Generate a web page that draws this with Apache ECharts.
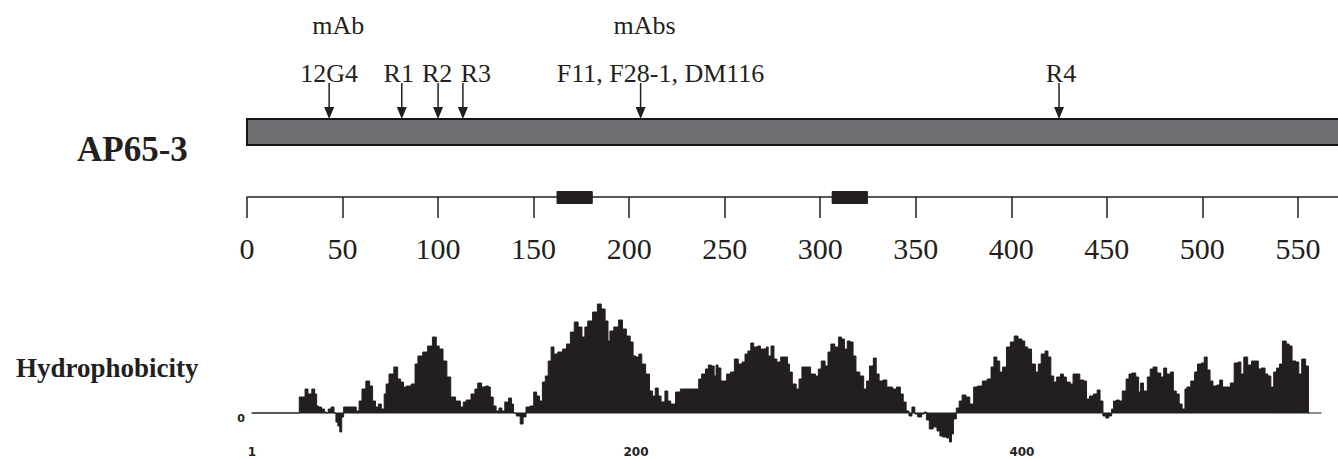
<!DOCTYPE html>
<html>
<head>
<meta charset="utf-8">
<title>AP65-3</title>
<script src="https://cdn.jsdelivr.net/npm/echarts@6/dist/echarts.min.js"></script>
<style>
  html, body { margin: 0; padding: 0; background: #fff; }
  #chart { width: 1338px; height: 459px; }
</style>
</head>
<body>
<div id="chart"></div>
<script>
// epitopes mapped on AP65-3 (residue numbers)
const epitopeNames = ['12G4', 'R1', 'R2', 'R3', 'F11, F28-1, DM116', 'R4']
const epitopeResidues = [43, 81, 100, 113, 206, 425]
const epitopeGroups = ['mAb', '', '', '', 'mAbs', '']

// protein runs past the right edge of the figure
const proteinLength = 580

// hydrophobic segments drawn on the ruler
const segmentStarts = [162, 306]
const segmentEnds = [181, 325]

const scaleTicks = [0, 50, 100, 150, 200, 250, 300, 350, 400, 450, 500, 550]
const hydroTicks = [1, 200, 400]

// hydrophobicity profile (residue, score)
const hydroResidues = [
  1, 25, 26, 28, 29, 31, 33, 34, 35, 36, 38, 39, 40, 41, 43, 44, 45, 46, 47, 48,
  49, 54, 56, 57, 59, 61, 63, 64, 66, 67, 69, 70, 71, 73, 76, 77, 79, 80, 82, 85,
  86, 88, 91, 93, 96, 97, 99, 101, 103, 105, 108, 110,
  111, 113, 116, 117, 119, 121, 123, 124, 125, 127, 128, 130, 131, 133, 135, 136, 137, 139,
  141, 142, 144, 146, 148, 149, 151, 152, 154, 155, 157, 158, 161, 163, 165, 167, 169, 171,
  173, 174, 176, 179, 181, 183, 185, 186, 187, 190, 192, 194, 196, 198, 199, 201, 202, 204,
  206, 208, 209, 211, 212, 214, 216, 217, 219, 222, 224,
  225, 232, 233, 235, 237, 238, 240, 241, 242, 243, 245, 246, 248, 250, 252, 254, 256, 257,
  259, 260, 262, 264, 265, 267, 268, 269, 271, 272, 274, 276, 278, 279, 280, 282, 284, 285,
  287, 289, 292, 294, 295, 297, 299, 300, 302, 304, 306, 307, 309, 310, 312, 313, 315, 317,
  319, 320, 322, 324, 325, 327, 329, 331, 332, 334, 336, 338, 339,
  341, 342, 344, 345, 347, 349, 350, 351, 353, 355, 357, 358, 360, 362, 363, 364, 365, 367,
  368, 370, 372, 374, 376, 378, 381, 383, 385, 386, 388, 389, 391, 393, 395, 397, 399, 401,
  402, 404, 406, 408, 409, 411, 413, 414, 416, 417, 419, 421, 422, 424, 426, 427, 429, 431,
  433, 434, 436, 438, 440, 441, 443, 444, 446, 447, 448,
  450, 451, 453, 455, 456, 458, 460, 461, 462, 464, 466, 467, 469, 471, 473, 474, 476, 478,
  479, 481, 482, 484, 485, 486, 489, 490, 492, 494, 495, 497, 498, 500, 502, 503, 505, 507,
  509, 511, 513, 514, 516, 518, 520, 522, 523, 525, 527, 528, 530, 531, 533, 534, 536, 538,
  539, 541, 543, 544, 546, 548, 549
]
const hydroScores = [
  0, 0, 1.6, 1.6, 2.4, 1.9, 2.4, 1.9, 0.7, 0.6, 0.4, 0.1, 0, 0.4, 0.6, 0, -0.9, -1.3, -1.9, -0.4,
  0.6, 0.6, 0.2, 1.2, 2.4, 3.2, 2.7, 1.2, 0.6, 0.9, 0.4, 1.9, 2.9, 3.9, 4.6, 3.4, 3.1, 2.6, 2.7, 2.9,
  4.9, 5.7, 6.1, 6.7, 7.6, 6.7, 6.4, 5.2, 3.6, 1.6, 1.2, 0.6,
  1.1, 1.3, 1.9, 2.4, 3.0, 2.6, 2.7, 2.6, 1.6, 0.7, 0.2, 0.5, 0.2, 1.1, 1.5, 0.9, 0, -0.3,
  -1.1, -0.4, 0.6, 0.7, 2.1, 1.7, 1.2, 3.1, 3.7, 5.2, 6.6, 5.9, 6.1, 6.4, 6.9, 8.1, 9.1, 8.6,
  7.6, 8.6, 9.2, 10.1, 10.9, 10.4, 9.2, 7.2, 8.2, 8.6, 9.3, 8.4, 7.7, 7.1, 5.7, 5.6, 5.9, 4.9,
  3.9, 2.2, 1.7, 2.5, 1.7, 1.1, 2.2, 1.2, 0.9, 2.1, 2.4,
  2.4, 2.4, 3.4, 3.9, 4.4, 4.8, 4.7, 3.7, 4.8, 4.5, 3.2, 3.2, 3.9, 4.1, 5.4, 4.9, 5.1, 5.9,
  6.2, 7.0, 6.6, 6.7, 6.4, 6.4, 6.6, 5.7, 6.7, 5.4, 5.1, 5.6, 5.6, 4.9, 4.1, 2.9, 2.4, 3.4,
  4.6, 4.6, 3.9, 3.7, 4.4, 5.2, 4.7, 6.1, 6.9, 6.6, 7.6, 7.4, 6.4, 7.2, 7.1, 5.7, 4.1, 3.7,
  2.4, 3.2, 4.7, 5.5, 3.9, 3.2, 3.3, 2.6, 2.6, 2.4, 2.6, 1.9, 1.1,
  0.2, -0.3, 0.6, -0.1, -0.4, -0.1, 0.1, -0.7, -1.6, -1.4, -1.8, -2.3, -2.4, -2.5, -2.9, -2.1, -0.6, 0.5,
  1.2, 1.8, 1.6, 0.9, 2.6, 2.7, 3.2, 3.4, 4.6, 5.6, 5.2, 4.1, 4.6, 6.6, 7.1, 7.7, 7.4, 7.2,
  6.6, 6.4, 4.9, 4.1, 4.9, 5.9, 6.2, 5.6, 3.7, 3.1, 3.6, 3.9, 3.6, 3.1, 2.9, 3.9, 3.9, 3.3,
  3.2, 1.4, 1.7, 1.9, 2.3, 1.2, -0.3, -0.5, -0.3, 0.4, 1.2,
  1.3, 1.2, 2.2, 3.4, 3.9, 4.0, 3.6, 2.1, 3.0, 2.2, 3.6, 4.4, 4.6, 4.0, 3.6, 4.5, 3.9, 4.1,
  2.2, 1.9, 0.9, 0.4, 2.4, 2.6, 3.2, 4.1, 4.9, 5.0, 5.6, 4.3, 3.2, 2.7, 2.8, 3.3, 2.6, 2.6,
  3.0, 5.0, 5.1, 3.9, 5.6, 4.8, 5.2, 5.2, 4.4, 4.5, 3.9, 3.7, 2.6, 4.1, 4.5, 4.9, 7.2, 6.9,
  6.7, 5.2, 5.1, 3.9, 5.4, 4.7, 0
]

// label nudges so the text sits like the original figure
const labelShift = [0, -3, -1, 13, 20, 2]
const groupShift = [9, 0, 0, 0, 4, 0]

const ink = '#231f20'
const serif = '"Liberation Serif", "Times New Roman", serif'

const chart = echarts.init(document.getElementById('chart'), null, { renderer: 'svg' })

chart.setOption({
  backgroundColor: '#fff',
  animation: false,
  title: [
    { text: 'AP65-3', left: 72, top: 127,
      textStyle: { fontFamily: serif, fontWeight: 'bold', fontSize: 35, color: ink } },
    { text: 'Hydrophobicity', left: 11, top: 349,
      textStyle: { fontFamily: serif, fontWeight: 'bold', fontSize: 27, color: ink } }
  ],
  grid: [
    { left: 247, right: 0, top: 119, height: 26, outerBoundsMode: 'none' },
    { left: 247, right: 0, top: 160, height: 37, outerBoundsMode: 'none' },
    { left: 252, right: 17, top: 303, height: 140, outerBoundsMode: 'none' }
  ],
  xAxis: [
    { gridIndex: 0, type: 'value', min: 0, max: 571, show: false },
    {
      gridIndex: 1, type: 'value', min: 0, max: 571, position: 'bottom',
      axisLine: { show: true, lineStyle: { color: ink, width: 1.5 } },
      axisTick: { show: true, length: 21, customValues: scaleTicks, lineStyle: { color: ink, width: 1.5 } },
      axisLabel: { customValues: scaleTicks, margin: 36, fontFamily: serif, fontSize: 30, color: ink },
      splitLine: { show: false }
    },
    {
      gridIndex: 2, type: 'value', min: 1, max: 555,
      axisLine: { show: true, onZero: true, lineStyle: { color: '#6a6a6a', width: 1.5 } },
      axisTick: { show: false },
      axisLabel: { customValues: hydroTicks, margin: 3, fontFamily: '"DejaVu Sans", sans-serif',
        fontWeight: 'bold', fontSize: 12, color: ink },
      splitLine: { show: false }
    }
  ],
  yAxis: [
    { gridIndex: 0, type: 'value', min: 0, max: 1, show: false },
    { gridIndex: 1, type: 'value', min: 0, max: 1, show: false },
    {
      gridIndex: 2, type: 'value', min: -3, max: 11,
      axisLine: { show: false }, axisTick: { show: false }, splitLine: { show: false },
      axisLabel: { customValues: [0], margin: 7, verticalAlign: 'top',
        fontFamily: '"DejaVu Sans", sans-serif', fontWeight: 'bold', fontSize: 11, color: ink }
    }
  ],
  series: [
    {
      // protein bar
      type: 'custom', xAxisIndex: 0, yAxisIndex: 0, silent: true,
      data: [[0, proteinLength]],
      renderItem: (params, api) => {
        const x0 = api.coord([api.value(0), 0])[0]
        const x1 = api.coord([api.value(1), 0])[0]
        const cs = params.coordSys
        return {
          type: 'rect',
          shape: { x: x0, y: cs.y, width: x1 - x0, height: cs.height },
          style: { fill: '#6d6e72', stroke: '#141414', lineWidth: 2 }
        }
      }
    },
    {
      // epitope arrows + labels
      type: 'custom', xAxisIndex: 0, yAxisIndex: 0, silent: true,
      data: epitopeResidues.map(r => [r, 1]),
      renderItem: (params, api) => {
        const i = params.dataIndex
        const x = api.coord([api.value(0), 1])[0]
        const top = params.coordSys.y
        const children = [
          { type: 'line', shape: { x1: x, y1: top - 36, x2: x, y2: top - 10 },
            style: { stroke: ink, lineWidth: 1.5 } },
          { type: 'polygon', shape: { points: [[x - 5, top - 12], [x + 5, top - 12], [x, top]] },
            style: { fill: ink } },
          { type: 'text', style: { text: epitopeNames[i], x: x + labelShift[i], y: top - 46,
            align: 'center', verticalAlign: 'middle', fontFamily: serif, fontSize: 26, fill: ink } }
        ]
        if (epitopeGroups[i]) {
          children.push({ type: 'text', style: { text: epitopeGroups[i], x: x + groupShift[i], y: top - 94,
            align: 'center', verticalAlign: 'middle', fontFamily: serif, fontSize: 26, fill: ink } })
        }
        return { type: 'group', children }
      }
    },
    {
      // hydrophobic segments on the ruler
      type: 'custom', xAxisIndex: 1, yAxisIndex: 1, silent: true,
      data: segmentStarts.map((s, i) => [s, segmentEnds[i]]),
      renderItem: (params, api) => {
        const x0 = api.coord([api.value(0), 0])[0]
        const x1 = api.coord([api.value(1), 0])[0]
        const y = params.coordSys.y + params.coordSys.height
        return {
          type: 'rect',
          shape: { x: x0, y: y - 6, width: x1 - x0, height: 13, r: 1 },
          style: { fill: ink }
        }
      }
    },
    {
      type: 'line', xAxisIndex: 2, yAxisIndex: 2, silent: true,
      data: hydroResidues.map((r, i) => [r, hydroScores[i]]),
      step: 'middle', symbol: 'none',
      lineStyle: { color: ink, width: 1 },
      areaStyle: { color: ink, opacity: 1 }
    }
  ]
})
</script>
</body>
</html>
